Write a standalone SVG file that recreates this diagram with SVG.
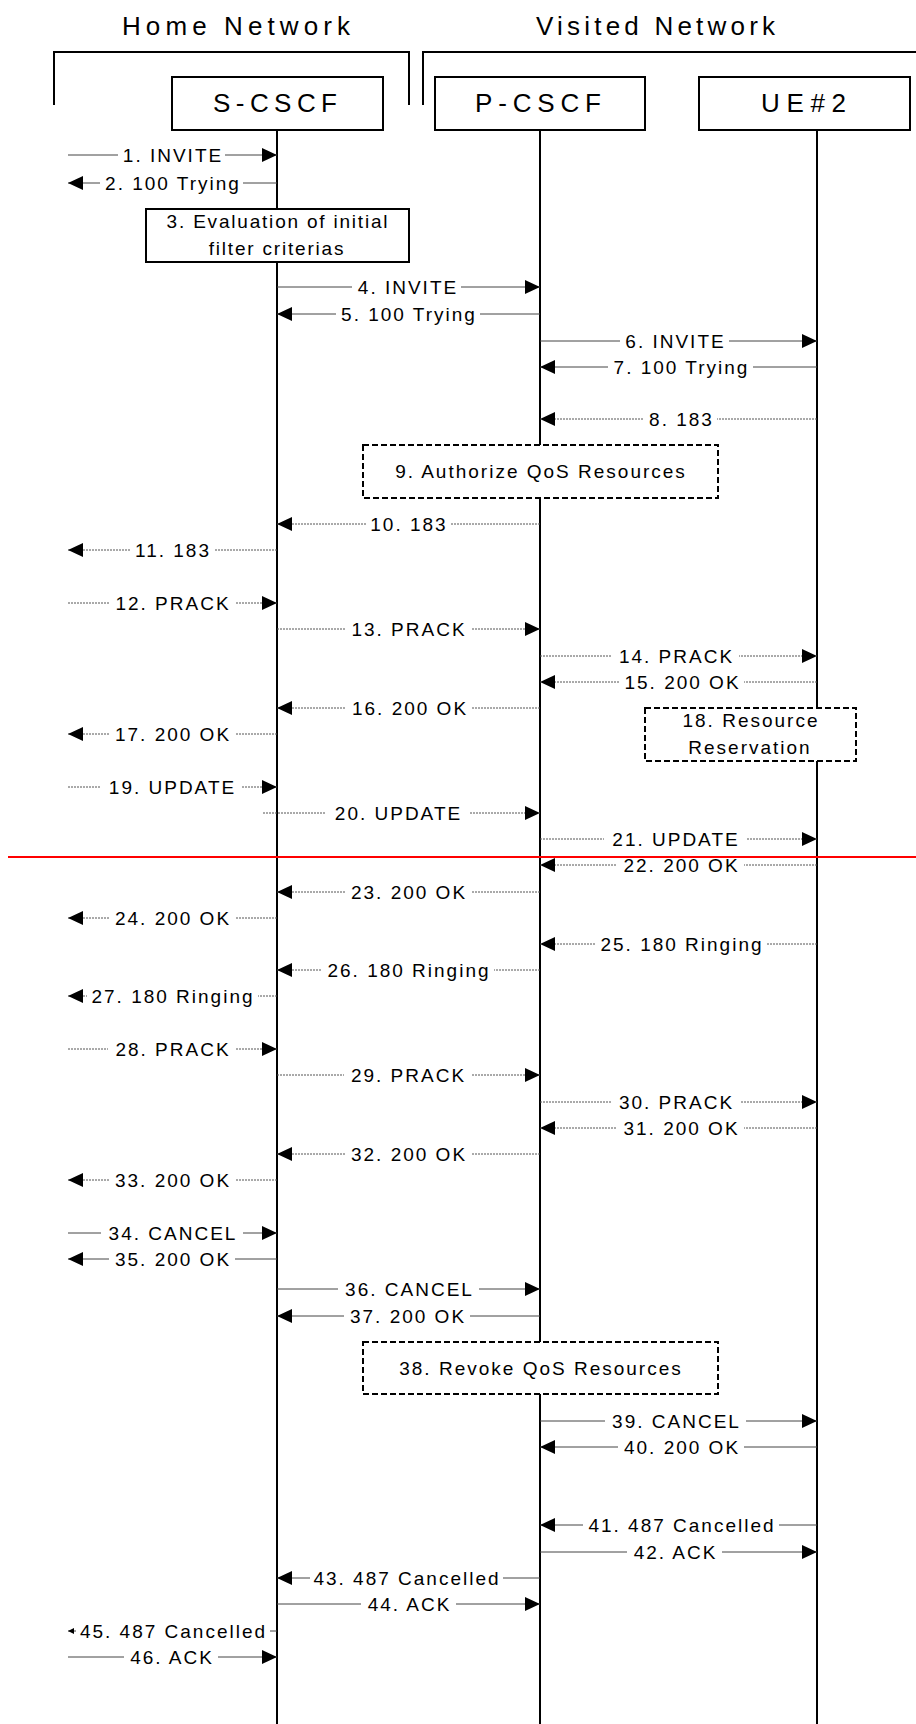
<svg xmlns="http://www.w3.org/2000/svg" width="916" height="1724" viewBox="0 0 916 1724">
<style>
text{font-family:"Liberation Sans",Arial,sans-serif;fill:#000}
.lbl{font-size:19px;letter-spacing:2px;text-anchor:middle}
.hdr{font-size:26px}
.s{stroke:#444;stroke-width:1;fill:none}
.d{stroke:#555;stroke-width:1;stroke-dasharray:2 1;fill:none}
.bg{fill:#fff}
.life{stroke:#000;stroke-width:2}
.box{fill:#fff;stroke:#000;stroke-width:2}
.dbox{fill:#fff;stroke:#000;stroke-width:2;stroke-dasharray:6 3}
.brk{fill:none;stroke:#000;stroke-width:2}
</style>
<defs>
<marker id="ah" markerUnits="userSpaceOnUse" markerWidth="15" markerHeight="14" refX="15" refY="7" orient="auto"><path d="M0,0 L15,7 L0,14 z" fill="#000"/></marker>
<marker id="ahs" markerUnits="userSpaceOnUse" markerWidth="6" markerHeight="6" refX="6" refY="3" orient="auto"><path d="M0,0 L6,3 L0,6 z" fill="#000"/></marker>
</defs>
<rect width="916" height="1724" fill="#fff"/>

<g id="networks">
<path class="brk" d="M54,105 V52 H409 V105"/>
<path class="brk" d="M423,105 V52 H916"/>
<text class="hdr" x="122" y="35" textLength="228" lengthAdjust="spacing">Home Network</text>
<text class="hdr" x="536" y="35" textLength="239" lengthAdjust="spacing">Visited Network</text>
</g>

<g id="lifelines">
<line class="life" x1="277" y1="130" x2="277" y2="1724"/>
<line class="life" x1="540" y1="130" x2="540" y2="1724"/>
<line class="life" x1="817" y1="130" x2="817" y2="1724"/>
</g>

<g id="scscf">
<rect class="box" x="172" y="77" width="211" height="53"/>
<text class="hdr" x="213" y="112" textLength="124" lengthAdjust="spacing">S-CSCF</text>
</g>
<g id="pcscf">
<rect class="box" x="435" y="77" width="210" height="53"/>
<text class="hdr" x="475" y="112" textLength="126" lengthAdjust="spacing">P-CSCF</text>
</g>
<g id="ue2">
<rect class="box" x="699" y="77" width="211" height="53"/>
<text class="hdr" x="761" y="112" textLength="85" lengthAdjust="spacing">UE#2</text>
</g>

<g id="step3">
<rect class="box" x="146" y="209" width="263" height="53"/>
<text class="lbl" x="278" y="228" style="letter-spacing:1.8px">3. Evaluation of initial</text>
<text class="lbl" x="277" y="255" style="letter-spacing:1.8px">filter criterias</text>
</g>
<g id="step9">
<rect class="dbox" x="363" y="445" width="355" height="53"/>
<text class="lbl" x="541" y="478">9. Authorize QoS Resources</text>
</g>
<g id="step18">
<rect class="dbox" x="645" y="708" width="211" height="53"/>
<text class="lbl" x="751" y="727">18. Resource</text>
<text class="lbl" x="750" y="754">Reservation</text>
</g>
<g id="step38">
<rect class="dbox" x="363" y="1342" width="355" height="52"/>
<text class="lbl" x="541" y="1375">38. Revoke QoS Resources</text>
</g>

<g id="connectors">
<!-- left: outside <-> S-CSCF -->
<line class="s" x1="68" y1="155" x2="277" y2="155" marker-end="url(#ah)"/><rect class="bg" x="118" y="147" width="107" height="16"/><text class="lbl" x="173" y="162">1. INVITE</text>
<line class="s" x1="277" y1="183" x2="68" y2="183" marker-end="url(#ah)"/><rect class="bg" x="100" y="175" width="143" height="16"/><text class="lbl" x="173" y="190">2. 100 Trying</text>
<line class="d" x1="277" y1="550" x2="68" y2="550" marker-end="url(#ah)"/><rect class="bg" x="130" y="542" width="85" height="16"/><text class="lbl" x="173" y="557">11. 183</text>
<line class="d" x1="68" y1="603" x2="277" y2="603" marker-end="url(#ah)"/><rect class="bg" x="109" y="595" width="126" height="16"/><text class="lbl" x="173" y="610">12. PRACK</text>
<line class="d" x1="277" y1="734" x2="68" y2="734" marker-end="url(#ah)"/><rect class="bg" x="109" y="726" width="126" height="16"/><text class="lbl" x="173" y="741">17. 200 OK</text>
<line class="d" x1="68" y1="787" x2="277" y2="787" marker-end="url(#ah)"/><rect class="bg" x="101" y="779" width="141" height="16"/><text class="lbl" x="172.5" y="794">19. UPDATE</text>
<line class="d" x1="277" y1="918" x2="68" y2="918" marker-end="url(#ah)"/><rect class="bg" x="109" y="910" width="126" height="16"/><text class="lbl" x="173" y="925">24. 200 OK</text>
<line class="d" x1="277" y1="996" x2="68" y2="996" marker-end="url(#ah)"/><rect class="bg" x="87" y="988" width="171" height="16"/><text class="lbl" x="173" y="1003">27. 180 Ringing</text>
<line class="d" x1="68" y1="1049" x2="277" y2="1049" marker-end="url(#ah)"/><rect class="bg" x="108" y="1041" width="128" height="16"/><text class="lbl" x="173" y="1056">28. PRACK</text>
<line class="d" x1="277" y1="1180" x2="68" y2="1180" marker-end="url(#ah)"/><rect class="bg" x="109" y="1172" width="126" height="16"/><text class="lbl" x="173" y="1187">33. 200 OK</text>
<line class="s" x1="68" y1="1233" x2="277" y2="1233" marker-end="url(#ah)"/><rect class="bg" x="101" y="1225" width="142" height="16"/><text class="lbl" x="173" y="1240">34. CANCEL</text>
<line class="s" x1="277" y1="1259" x2="68" y2="1259" marker-end="url(#ah)"/><rect class="bg" x="109" y="1251" width="126" height="16"/><text class="lbl" x="173" y="1266">35. 200 OK</text>
<line class="s" x1="277" y1="1631" x2="68" y2="1631" marker-end="url(#ahs)"/><rect class="bg" x="76" y="1623" width="194" height="16"/><text class="lbl" x="173.5" y="1638">45. 487 Cancelled</text>
<line class="s" x1="68" y1="1657" x2="277" y2="1657" marker-end="url(#ah)"/><rect class="bg" x="124" y="1649" width="94" height="16"/><text class="lbl" x="172" y="1664">46. ACK</text>

<!-- middle: S-CSCF <-> P-CSCF -->
<line class="s" x1="277" y1="287" x2="540" y2="287" marker-end="url(#ah)"/><rect class="bg" x="352" y="279" width="109" height="16"/><text class="lbl" x="408" y="294">4. INVITE</text>
<line class="s" x1="540" y1="314" x2="277" y2="314" marker-end="url(#ah)"/><rect class="bg" x="336" y="306" width="144" height="16"/><text class="lbl" x="409" y="321">5. 100 Trying</text>
<line class="d" x1="540" y1="524" x2="277" y2="524" marker-end="url(#ah)"/><rect class="bg" x="366" y="516" width="85" height="16"/><text class="lbl" x="409" y="531">10. 183</text>
<line class="d" x1="277" y1="629" x2="540" y2="629" marker-end="url(#ah)"/><rect class="bg" x="345" y="621" width="127" height="16"/><text class="lbl" x="409" y="636">13. PRACK</text>
<line class="d" x1="540" y1="708" x2="277" y2="708" marker-end="url(#ah)"/><rect class="bg" x="346" y="700" width="126" height="16"/><text class="lbl" x="410" y="715">16. 200 OK</text>
<line class="d" x1="263" y1="813" x2="540" y2="813" marker-end="url(#ah)"/><rect class="bg" x="326" y="805" width="143" height="16"/><text class="lbl" x="398.5" y="820">20. UPDATE</text>
<line class="d" x1="540" y1="892" x2="277" y2="892" marker-end="url(#ah)"/><rect class="bg" x="345" y="884" width="126" height="16"/><text class="lbl" x="409" y="899">23. 200 OK</text>
<line class="d" x1="540" y1="970" x2="277" y2="970" marker-end="url(#ah)"/><rect class="bg" x="322" y="962" width="172" height="16"/><text class="lbl" x="409" y="977">26. 180 Ringing</text>
<line class="d" x1="277" y1="1075" x2="540" y2="1075" marker-end="url(#ah)"/><rect class="bg" x="344" y="1067" width="127" height="16"/><text class="lbl" x="408.5" y="1082">29. PRACK</text>
<line class="d" x1="540" y1="1154" x2="277" y2="1154" marker-end="url(#ah)"/><rect class="bg" x="345" y="1146" width="126" height="16"/><text class="lbl" x="409" y="1161">32. 200 OK</text>
<line class="s" x1="277" y1="1289" x2="540" y2="1289" marker-end="url(#ah)"/><rect class="bg" x="338" y="1281" width="141" height="16"/><text class="lbl" x="409.5" y="1296">36. CANCEL</text>
<line class="s" x1="540" y1="1316" x2="277" y2="1316" marker-end="url(#ah)"/><rect class="bg" x="344" y="1308" width="126" height="16"/><text class="lbl" x="408" y="1323">37. 200 OK</text>
<line class="s" x1="540" y1="1578" x2="277" y2="1578" marker-end="url(#ah)"/><rect class="bg" x="310" y="1570" width="193" height="16"/><text class="lbl" x="407" y="1585">43. 487 Cancelled</text>
<line class="s" x1="277" y1="1604" x2="540" y2="1604" marker-end="url(#ah)"/><rect class="bg" x="361" y="1596" width="95" height="16"/><text class="lbl" x="409.5" y="1611">44. ACK</text>

<!-- right: P-CSCF <-> UE#2 -->
<line class="s" x1="540" y1="341" x2="817" y2="341" marker-end="url(#ah)"/><rect class="bg" x="620" y="333" width="109" height="16"/><text class="lbl" x="675.5" y="348">6. INVITE</text>
<line class="s" x1="817" y1="367" x2="540" y2="367" marker-end="url(#ah)"/><rect class="bg" x="608" y="359" width="145" height="16"/><text class="lbl" x="681.5" y="374">7. 100 Trying</text>
<line class="d" x1="817" y1="419" x2="540" y2="419" marker-end="url(#ah)"/><rect class="bg" x="644" y="411" width="73" height="16"/><text class="lbl" x="681.5" y="426">8. 183</text>
<line class="d" x1="540" y1="656" x2="817" y2="656" marker-end="url(#ah)"/><rect class="bg" x="612" y="648" width="127" height="16"/><text class="lbl" x="676.5" y="663">14. PRACK</text>
<line class="d" x1="817" y1="682" x2="540" y2="682" marker-end="url(#ah)"/><rect class="bg" x="619" y="674" width="125" height="16"/><text class="lbl" x="682.5" y="689">15. 200 OK</text>
<line class="d" x1="540" y1="839" x2="817" y2="839" marker-end="url(#ah)"/><rect class="bg" x="604" y="831" width="142" height="16"/><text class="lbl" x="676" y="846">21. UPDATE</text>
<line class="d" x1="817" y1="865" x2="540" y2="865" marker-end="url(#ah)"/><rect class="bg" x="617" y="857" width="127" height="16"/><text class="lbl" x="681.5" y="872">22. 200 OK</text>
<line class="d" x1="817" y1="944" x2="540" y2="944" marker-end="url(#ah)"/><rect class="bg" x="595" y="936" width="172" height="16"/><text class="lbl" x="682" y="951">25. 180 Ringing</text>
<line class="d" x1="540" y1="1102" x2="817" y2="1102" marker-end="url(#ah)"/><rect class="bg" x="611" y="1094" width="129" height="16"/><text class="lbl" x="676.5" y="1109">30. PRACK</text>
<line class="d" x1="817" y1="1128" x2="540" y2="1128" marker-end="url(#ah)"/><rect class="bg" x="617" y="1120" width="127" height="16"/><text class="lbl" x="681.5" y="1135">31. 200 OK</text>
<line class="s" x1="540" y1="1421" x2="817" y2="1421" marker-end="url(#ah)"/><rect class="bg" x="605" y="1413" width="141" height="16"/><text class="lbl" x="676.5" y="1428">39. CANCEL</text>
<line class="s" x1="817" y1="1447" x2="540" y2="1447" marker-end="url(#ah)"/><rect class="bg" x="618" y="1439" width="126" height="16"/><text class="lbl" x="682" y="1454">40. 200 OK</text>
<line class="s" x1="817" y1="1525" x2="540" y2="1525" marker-end="url(#ah)"/><rect class="bg" x="583" y="1517" width="196" height="16"/><text class="lbl" x="682" y="1532">41. 487 Cancelled</text>
<line class="s" x1="540" y1="1552" x2="817" y2="1552" marker-end="url(#ah)"/><rect class="bg" x="627" y="1544" width="95" height="16"/><text class="lbl" x="675.5" y="1559">42. ACK</text>
</g>

<g id="separator">
<line x1="8" y1="857" x2="916" y2="857" stroke="#f00" stroke-width="2"/>
</g>
</svg>
